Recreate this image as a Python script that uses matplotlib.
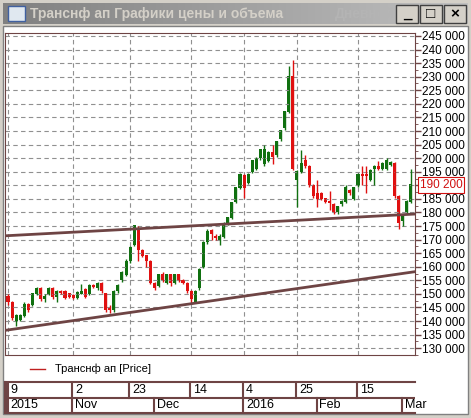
import numpy as np
import matplotlib
matplotlib.use("Agg")
import matplotlib.pyplot as plt
from matplotlib.patches import Rectangle

plt.rcParams['font.family'] = ['Liberation Sans', 'DejaVu Sans']

# daily candles, prices in thousands of rubles
opens = [149, 147, 140, 140.5, 142, 146, 146, 150, 152, 148,
         150, 152, 149, 151, 151, 150, 149.5, 148.5, 150, 151.5,
         150, 153, 152, 154, 150, 145, 144, 151, 155, 157,
         162, 168, 174, 166, 164, 162, 154, 153, 157, 154,
         157, 154, 157, 155, 154, 151, 147, 152, 160, 169,
         173.5, 171, 170, 171, 176, 178, 184, 189, 193.5, 191,
         195, 196, 200, 198, 199, 202, 201, 207, 211, 217,
         230, 192, 195, 199, 197, 190, 187, 187, 185, 184,
         183, 180, 183, 184, 188, 185, 190, 194, 194, 192,
         196, 197, 196, 196, 197.5, 198, 186, 177, 180, 184]
closes = [147, 141, 142, 142, 146, 144, 150, 152, 148, 149,
          152, 149, 151, 150.5, 148.5, 149, 148.5, 150.5, 151, 149,
          153, 152.5, 154, 151, 144, 144, 151, 153, 158, 162,
          167, 175, 166, 164, 162, 154, 152, 157, 155, 157,
          154, 157, 155, 154, 151, 148, 151, 159, 169, 173,
          172, 170.5, 171, 176, 178, 183.5, 189, 194, 189, 194,
          199, 200, 203, 203, 202, 200.5, 206, 210, 217, 230,
          196, 195, 198, 197, 190, 186, 185, 185, 184, 183.5,
          180, 182, 184, 189, 187, 189, 194, 193.5, 193.5, 195.5,
          197, 196, 198, 199, 198.5, 186, 176, 179, 184, 190.2]
highs = [150, 147.5, 142.5, 142.5, 147, 146.5, 150.5, 152.5, 152.5, 150,
         152.5, 152.5, 151.5, 151.5, 151.5, 150.5, 150, 151, 153.5, 152,
         153.5, 153.5, 154.5, 154.5, 150.5, 146, 151.5, 153.5, 158.5, 163,
         167.5, 175.5, 175, 166.5, 164.5, 162.5, 154.5, 157.5, 158, 157.5,
         157.5, 157.5, 157.5, 155.5, 154.5, 151.5, 151.5, 159.5, 169.5, 174,
         174, 172, 172, 176.5, 178.5, 184, 189, 194.5, 194, 194.5,
         199.5, 200.5, 203.5, 205, 202.5, 205, 206.5, 210.5, 217.5, 234,
         236, 195.5, 203, 201, 197.5, 190.5, 192, 187.5, 185.5, 188,
         183.5, 182.5, 184.5, 190, 188.5, 189.5, 194.5, 197, 197, 196,
         197.5, 199, 198.5, 200, 199, 198.5, 186.5, 179.5, 184.5, 196]
lows = [146, 140.5, 138.2, 140, 141.5, 143.5, 145.5, 149.5, 147.5, 147,
        149.5, 148, 147, 150, 148, 148.5, 148, 148, 150, 148.5,
        149.5, 152, 151.5, 150.5, 143.5, 143, 143.5, 150.5, 154.5, 156.5,
        161.5, 167.5, 162, 163.5, 160, 153.5, 151.5, 152.5, 154.5, 153.5,
        153, 153.5, 154.5, 153.5, 150.5, 146.5, 146.5, 151.5, 159.5, 168.5,
        170, 170, 168, 170.5, 175.5, 177.5, 183.5, 188.5, 185.5, 190.5,
        194.5, 195.5, 199.5, 197, 198.5, 198, 200.5, 206.5, 210.5, 216.5,
        195.5, 182, 194.5, 196.5, 189.5, 185.5, 182, 184.5, 183.5, 181,
        179.5, 179.5, 182.5, 183.5, 186.5, 184.5, 189.5, 190, 187, 191.5,
        190, 195.5, 195.5, 195.5, 197, 185.5, 174, 175, 179.5, 183.5]

upper_line = [(-2, 171.3), (101, 179.5)]
lower_line = [(-2, 136.3), (101, 158.4)]

top_ticks = [0, 16, 30, 45, 58, 71, 86]
top_labels = ['9', '2', '23', '14', '4', '25', '15']
bottom_ticks = [0, 16, 36, 58, 76, 97]
bottom_labels = ['2015', 'Nov', 'Dec', '2016', 'Feb', 'Mar']
yticks = list(range(130, 246, 5))
last_price = 190.2

W, H = 471, 418
BROWN = '#6e4444'
fig = plt.figure(figsize=(W / 100, H / 100), dpi=100, facecolor='#d4d0c8')

def fr(x0, y0, x1, y1):
    return [x0 / W, 1 - y1 / H, (x1 - x0) / W, (y1 - y0) / H]

# window chrome
bg = fig.add_axes([0, 0, 1, 1])
bg.axis('off')
grad = np.linspace(0, 1, 256).reshape(1, -1)
bg.imshow(grad, extent=[3, 468, 24, 3], cmap=matplotlib.colors.LinearSegmentedColormap.from_list('t', ['#808080', '#c0c0c0']), aspect='auto')
bg.add_patch(Rectangle((3, 26), 465, 388, facecolor='white', edgecolor='#808080', lw=1))
bg.text(30, 14, 'Транснф ап Графики цены и объема', color='#d4d0c8', fontsize=10, fontweight='bold', va='center')
bg.text(335, 14, 'Дневной', color='#b4b4b4', fontsize=10, fontweight='bold', va='center')
bg.add_patch(Rectangle((8, 6), 17, 15, facecolor='#e0e8f0', edgecolor='#4060a0', lw=1))
for bx, sym in [(396, '_'), (420, '□'), (444, '×')]:
    bg.add_patch(Rectangle((bx, 5), 22, 18, facecolor='#d4d0c8', edgecolor='#404040', lw=1))
    bg.text(bx + 11, 14, sym, ha='center', va='center', fontsize=11, fontweight='bold')
bg.plot([30, 45], [369, 369], color='#c02020', lw=1)
bg.text(55, 369, 'Транснф ап [Price]', fontsize=8, va='center')
bg.set_xlim(0, W)
bg.set_ylim(H, 0)

# price chart
ax = fig.add_axes(fr(5, 33, 415, 355))
x = np.arange(len(opens))
o = np.array(opens)
c = np.array(closes)
colors = np.where(c >= o, '#107010', '#e01010')
ax.vlines(x, lows, highs, colors=colors, lw=1)
ax.bar(x, np.abs(c - o) + 0.2, bottom=np.minimum(o, c), width=0.75, color=colors, lw=0)
for ln in (upper_line, lower_line):
    ax.plot([p[0] for p in ln], [p[1] for p in ln], color=BROWN, lw=2, solid_capstyle='butt')
ax.set_xlim(-0.74, 100)
ax.set_ylim(128.2, 246.1)
ax.set_yticks(yticks)
ax.set_yticks(np.arange(127.5, 246, 2.5), minor=True)
ax.set_yticklabels(['' if v == 190 else f'{v} 000' for v in yticks], fontsize=8.5)
ax.yaxis.tick_right()
ax.tick_params(axis='y', length=4, width=1, color=BROWN, pad=1)
ax.tick_params(axis='y', which='minor', length=2, color=BROWN)
ax.set_xticks(top_ticks)
ax.tick_params(axis='x', length=0, labelbottom=False)
ax.grid(True, ls=(0, (4, 3)), color='#909090', lw=0.8)
for s in ax.spines.values():
    s.set_color(BROWN)
ax.text(1.012, last_price, '190 200', transform=ax.get_yaxis_transform(), color='#d01010', fontsize=8.5,
        va='center', ha='left', bbox=dict(boxstyle='square,pad=0.15', fc='white', ec='#d01010', lw=0.8))

# date axis
dx = fig.add_axes(fr(5, 382, 415, 413))
dx.set_xlim(-0.74, 100)
dx.set_ylim(0, 2)
dx.set_xticks([])
dx.set_yticks([])
for s in dx.spines.values():
    s.set_color(BROWN)
    s.set_linewidth(1.5)
dx.spines['right'].set_visible(False)
dx.axhline(1, color=BROWN, lw=1.5)
dx.axvline(-0.05, color=BROWN, lw=1.5)
for t, lab in zip(top_ticks, top_labels):
    dx.plot([t - 0.2, t - 0.2], [1, 2], color=BROWN, lw=1.5)
    dx.text(t + 0.5, 1.5, lab, fontsize=9, va='center')
for t, lab in zip(bottom_ticks, bottom_labels):
    dx.plot([t - 0.2, t - 0.2], [0, 1], color=BROWN, lw=1.5)
    dx.text(t + 0.5, 0.5, lab, fontsize=9, va='center')

fig.savefig('out.png', dpi=100, facecolor=fig.get_facecolor())
